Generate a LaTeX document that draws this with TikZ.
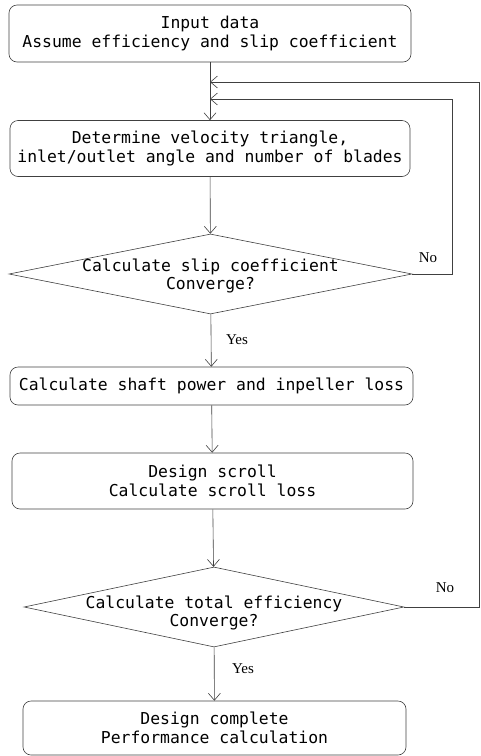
\documentclass[tikz,border=0pt]{standalone}
\usepackage{fontspec}
\setmonofont{DejaVu Sans Mono}
\newfontfamily\serifno{Liberation Serif}
\usetikzlibrary{shapes.geometric,arrows.meta}

\begin{document}
\begin{tikzpicture}
[every node/.style={inner sep=0pt},
 box/.style={rectangle, rounded corners=8pt, draw=black!75, line width=0.6pt, align=center, inner sep=2pt, font=\ttfamily\fontsize{16.4}{18.5}\selectfont},
 dia/.style={diamond, draw=black!75, line width=0.6pt},
 txt/.style={align=center, font=\ttfamily\fontsize{16.4}{18.5}\selectfont},
 lbl/.style={font=\serifno\fontsize{15}{15}\selectfont},
 flow/.style={line width=0.6pt, draw=black!75, -{Straight Barb[length=7pt, width=12pt]}}]
\useasboundingbox (0pt, 0pt) rectangle (481pt, -756pt);
\node (inp) [box, minimum width=402pt, minimum height=57pt] at (210pt, -33.5pt) {Input data\\Assume efficiency and slip coefficient};
\node (vel) [box, minimum width=400pt, minimum height=56pt] at (210pt, -148.5pt) {Determine velocity triangle,\\inlet/outlet angle and number of blades};
\node (slip) [dia, minimum width=403pt, minimum height=80pt] at (210.5pt, -274pt) {};
\node (sliptxt) [txt] at (210.5pt, -276pt) {Calculate slip coefficient\\Converge?};
\node (shaft) [box, minimum width=403pt, minimum height=38pt] at (211.5pt, -386pt) {Calculate shaft power and inpeller loss};
\node (scroll) [box, minimum width=401pt, minimum height=56pt] at (212.5pt, -481pt) {Design scroll\\Calculate scroll loss};
\node (eff) [dia, minimum width=380pt, minimum height=80pt] at (214pt, -607pt) {};
\node (efftxt) [txt] at (214pt, -613pt) {Calculate total efficiency\\Converge?};
\node (done) [box, minimum width=383pt, minimum height=54pt] at (214.5pt, -728pt) {Design complete\\Performance calculation};
\coordinate (j1) at (210pt, -82pt);
\coordinate (j2) at (210pt, -99pt);
\coordinate (r1) at (479.5pt, -82pt);
\coordinate (r2) at (452pt, -99pt);
% main column
\draw [flow] (inp) to (vel);
\draw [flow] (vel) to (slip);
\draw [flow] (slip) to (shaft);
\draw [flow] (shaft) to (scroll);
\draw [flow] (scroll) to (eff);
\draw [flow] (eff) to (done);
% loops back
\draw [flow] (slip.east) -| (r2) to (j2);
\draw [flow] (eff.east) -| (r1) to (j1);
\node (yes1) [lbl] at (237pt, -340pt) {Yes};
\node (yes2) [lbl] at (243pt, -669pt) {Yes};
\node (no1) [lbl] at (428pt, -258pt) {No};
\node (no2) [lbl] at (445pt, -588pt) {No};
\end{tikzpicture}
\end{document}
